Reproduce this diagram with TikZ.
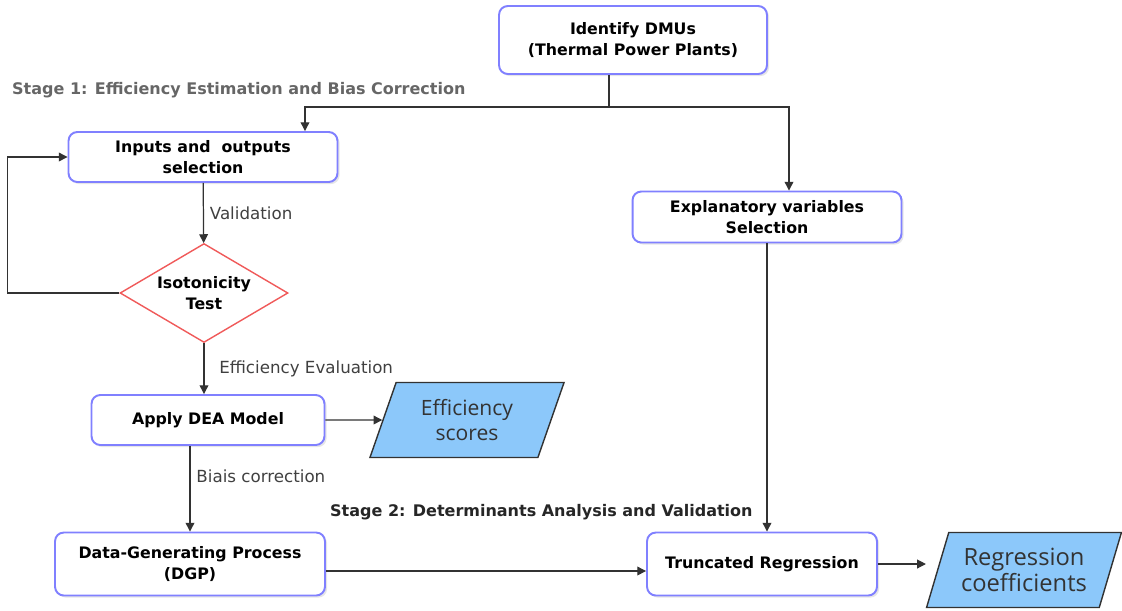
\documentclass[tikz,border=0pt]{standalone}
\usepackage{fontspec}
\setmainfont{DejaVu Sans}
\newfontfamily\scorefont{Open Sans}
\usepackage{tikz}
\usetikzlibrary{positioning, shapes.geometric}
\usetikzlibrary{calc,shadows,arrows.meta}
\definecolor{boxblue}{RGB}{128,128,255}
\definecolor{testred}{RGB}{240,90,90}
\definecolor{outfill}{RGB}{140,200,250}
\definecolor{linegray}{RGB}{50,50,50}
\tikzstyle{process} = [rectangle, rounded corners=5pt, minimum height=1cm, text centered, align=center, draw=boxblue, line width=1.1pt, fill=white, font=\fontsize{9}{12}\selectfont\bfseries, drop shadow={opacity=0.2, shadow xshift=1.2pt, shadow yshift=-1.2pt}]
\tikzstyle{decision} = [diamond, aspect=1.7, minimum width=3.36cm, minimum height=1.98cm, inner sep=0pt, align=center, draw=testred, line width=0.8pt, fill=white, font=\fontsize{9}{12}\selectfont\bfseries]
\tikzstyle{io} = [trapezium, trapezium left angle=70, trapezium right angle=110, trapezium stretches=true, minimum width=3.9cm, minimum height=1.5cm, align=center, draw=linegray, line width=0.8pt, fill=outfill, text=black!80]
\tikzstyle{arrow} = [line width=0.7pt, draw=linegray, -{Triangle[length=5pt, width=5pt]}]
\tikzstyle{lbl} = [font=\fontsize{9.5}{11}\selectfont, text=black!75]
\tikzstyle{stage} = [anchor=west, font=\fontsize{9.1}{11}\selectfont\bfseries]

\begin{document}
\begin{tikzpicture}[x=0.02cm, y=-0.02cm]
	\useasboundingbox (0,0) rectangle (1122,610);
	\node (dmu) [process, minimum width=5.36cm, minimum height=1.36cm] at (633,40) {Identify DMUs\\(Thermal Power Plants)};
	\node (stage1) [stage, text=black!60] at (6,90) {Stage 1: Efficiency Estimation and Bias Correction};
	\node (sel) [process, minimum width=5.38cm] at (203,157) {Inputs and \ outputs\\selection};
	\node (expl) [process, minimum width=5.38cm, minimum height=1.02cm] at (767,217) {Explanatory variables\\Selection};
	\node (iso) [decision] at (204,293) {Isotonicity\\Test};
	\node (dea) [process, minimum width=4.66cm] at (208,420) {Apply DEA Model};
	\node (eff) [io, font=\scorefont\fontsize{12}{14}\selectfont] at (467,420) {Efficiency\\scores};
	\node (stage2) [stage, text=black!85] at (324,512) {Stage 2: Determinants Analysis and Validation};
	\node (dgp) [process, minimum width=5.4cm, minimum height=1.26cm] at (190,564) {Data-Generating Process\\(DGP)};
	\node (trunc) [process, minimum width=4.6cm, minimum height=1.26cm] at (762,564) {Truncated Regression};
	\node (reg) [io, font=\scorefont\fontsize{13.5}{15}\selectfont] at (1024,570) {Regression\\coefficients};
	\coordinate (split) at (609,107);
	\draw [arrow](dmu.south -| split) -- (split) -| ($(sel.north)+(102,0)$);
	\draw [arrow](split) -| ($(expl.north)+(22,0)$);
	\draw [arrow](sel) -- node[lbl, right, pos=0.5] {Validation}(iso);
	\draw [arrow](iso.west) -- ++(-112,0) |- (sel.west);
	\draw [arrow](iso.south) -- node[lbl, right, xshift=5pt] {Efficiency Evaluation}(iso.south |- dea.north);
	\draw [arrow](dea.east) -- (eff.west);
	\draw [arrow](dgp.north |- dea.south) -- node[lbl, right, pos=0.35] {Biais correction}(dgp.north);
	\draw [arrow](expl.south) -- (expl.south |- trunc.north);
	\draw [arrow]($(dgp.east)+(0,7)$) -- ($(trunc.west)+(0,7)$);
	\draw [arrow](trunc.east) -- ($(trunc.east)+(48,0)$);
\end{tikzpicture}
\end{document}
